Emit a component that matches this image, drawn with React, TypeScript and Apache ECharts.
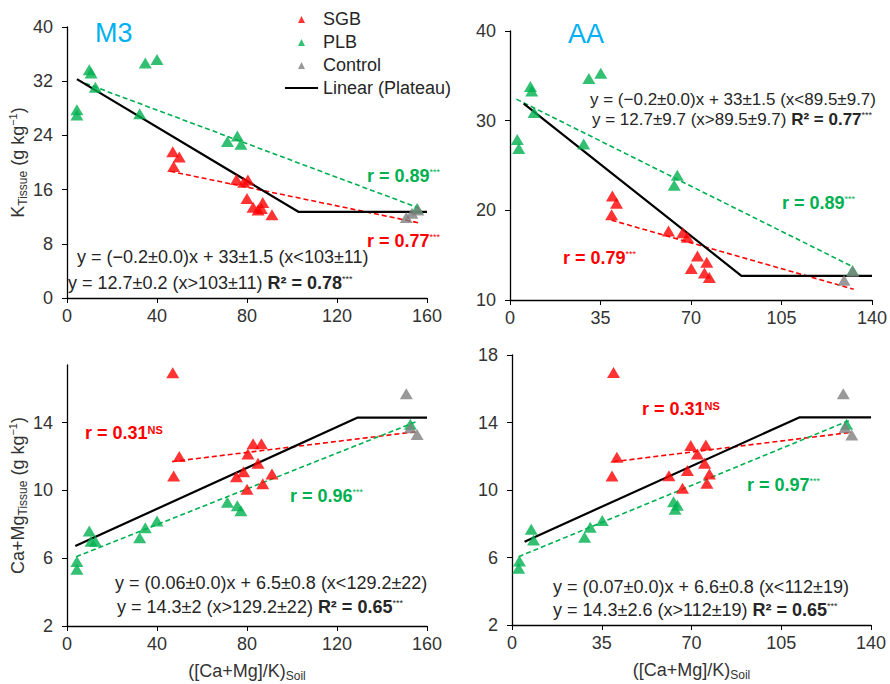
import React, { useEffect, useRef } from "react";
import * as echarts from "echarts";

// ---------- DATA ----------
// Panel M3 – K tissue vs ([Ca+Mg]/K) soil
const m3KSgb = [[47, 21.6], [49.9, 20.8], [47.4, 19.4], [75.3, 17.5], [78.5, 17.1], [80.4, 17.4], [80, 14.7], [82.7, 13.4], [84.9, 13.0], [87, 14.1], [86.4, 13.2], [91.1, 12.3]];
const m3KPlb = [[4.4, 27.8], [4.4, 27.0], [9.9, 33.7], [10.7, 33.2], [12.6, 31.1], [34.8, 34.7], [40, 35.2], [32.3, 27.2], [71.3, 23.1], [75.7, 23.9], [77.3, 22.7], [155.6, 13.2]];
const m3KCtrl = [[150.8, 11.9], [153.3, 12.5], [155.9, 13.0]];
const m3KSgbFit = [[45.9, 18.7], [156.3, 11.1]];
const m3KPlbFit = [[8.1, 31.7], [156.3, 13.3]];
const m3KPlateau = [[4.4, 32.3], [103, 12.7], [160, 12.7]];

// Panel AA – K tissue
const aaKSgb = [[39.6, 21.6], [41.2, 20.8], [39.3, 19.5], [61.3, 17.7], [66.8, 17.5], [68.6, 17.0], [72.5, 14.9], [76.1, 14.2], [70.1, 13.5], [75.2, 13.0], [77.1, 12.5]];
const aaKPlb = [[2.8, 27.9], [3.4, 26.9], [7.9, 33.8], [8.4, 33.3], [9.3, 30.9], [30.5, 34.7], [35.1, 35.3], [28.5, 27.4], [64.7, 23.9], [63.5, 22.8], [132.5, 13.3]];
const aaKCtrl = [[129.2, 12.2], [132.5, 13.2]];
const aaKSgbFit = [[39.3, 18.9], [132.9, 11.2]];
const aaKPlbFit = [[2.5, 32.4], [132.6, 13.7]];
const aaKPlateau = [[5.3, 31.9], [89.5, 12.7], [140, 12.7]];

// Panel M3 – Ca+Mg tissue
const m3CaSgb = [[47, 16.95], [49.9, 12.0], [47.4, 10.85], [75.3, 10.8], [78.5, 11.1], [80.4, 12.15], [82.7, 12.75], [86.4, 12.75], [84.9, 11.6], [80, 10.07], [87, 10.4], [91.1, 10.97]];
const m3CaPlb = [[4.4, 5.35], [4.4, 5.8], [9.9, 7.6], [10.7, 7.0], [12.6, 7.0], [32.3, 7.2], [34.8, 7.8], [40, 8.2], [71.3, 9.3], [75.7, 9.1], [77.3, 8.8], [152.6, 13.9]];
const m3CaCtrl = [[150.8, 15.7], [152.6, 13.7], [155.6, 13.3]];
const m3CaSgbFit = [[46.7, 11.7], [155.6, 13.47]];
const m3CaPlbFit = [[4.1, 6.09], [155.3, 14.06]];
const m3CaPlateau = [[3.7, 6.72], [129.2, 14.3], [160, 14.3]];

// Panel AA – Ca+Mg tissue
const aaCaSgb = [[39.6, 16.96], [40.9, 11.94], [39, 10.83], [61.2, 10.85], [68.4, 11.15], [69.7, 12.63], [72.3, 12.14], [75.6, 12.67], [75.1, 11.58], [77, 10.95], [66.5, 10.1], [76, 10.4]];
const aaCaPlb = [[2.6, 5.36], [2.9, 5.8], [7.5, 7.67], [8.4, 7.04], [28.3, 7.2], [30.5, 7.8], [35.2, 8.19], [63, 9.3], [64.5, 9.1], [63.6, 8.86], [130.5, 13.9]];
const aaCaCtrl = [[129.2, 15.7], [129.9, 13.7], [132.5, 13.26]];
const aaCaSgbFit = [[39.6, 11.68], [132.5, 13.42]];
const aaCaPlbFit = [[2.6, 6.05], [132, 14.15]];
const aaCaPlateau = [[4.9, 6.94], [112, 14.3], [140, 14.3]];

const xTicksM3 = [0, 40, 80, 120, 160];
const xTicksAA = [0, 35, 70, 105, 140];
const yTicksK_M3 = [0, 8, 16, 24, 32, 40];
const yTicksK_AA = [10, 20, 30, 40];
const yTicksCa_M3 = [2, 6, 10, 14];
const yTicksCa_AA = [2, 6, 10, 14, 18];

const legendNames = ["SGB", "PLB", "Control", "Linear (Plateau)"];

// ---------- STYLE ----------
const FONT = '"Liberation Sans", Arial, sans-serif';
const RED = "#FF0000";
const GREEN = "#00B050";
const GRAY = "#808080";
const TXT = "#262626";
const BLUE = "#00B0F0";

const triIcon = "path://M0,0 L0.01,0 L0,0.01 Z M33,8 L32.99,8 L33,7.99 Z M13,8 L16.5,1 L20,8 Z";
const lineIcon = "path://M0,0 L0.01,0 L0,0.01 Z M33,8 L32.99,8 L33,7.99 Z M0,3 L33,3 L33,5 L0,5 Z";

function axisBase(ticks: number[]) {
  return {
    type: "value",
    min: ticks[0],
    max: ticks[ticks.length - 1],
    splitLine: { show: false },
    axisLine: { show: true, onZero: false, lineStyle: { color: "#000", width: 1.3 } },
    axisTick: { show: true, inside: false, length: 5, lineStyle: { color: "#000" }, customValues: ticks },
    axisLabel: { fontSize: 18, color: "#333", fontFamily: FONT, margin: 9, customValues: ticks },
  };
}

function panelSeries(i: number, sgb: number[][], plb: number[][], ctrl: number[][], sgbFit: number[][], plbFit: number[][], plateau: number[][]) {
  const sc = (name: string, data: number[][], color: string) => ({
    type: "scatter",
    name,
    xAxisIndex: i,
    yAxisIndex: i,
    data,
    symbol: "triangle",
    symbolSize: [13, 11],
    itemStyle: { color },
    z: 5,
  });
  const ln = (name: string, data: number[][], color: string, dashed: boolean) => ({
    type: "line",
    name,
    xAxisIndex: i,
    yAxisIndex: i,
    data,
    symbol: "none",
    lineStyle: { color, width: dashed ? 1.6 : 2.2, type: dashed ? [5, 3] : "solid" },
    itemStyle: { color },
    z: 3,
  });
  return [
    ln("SGB fit", sgbFit, RED, true),
    ln("PLB fit", plbFit, GREEN, true),
    ln("Linear (Plateau)", plateau, "#000", false),
    sc("SGB", sgb, RED),
    sc("PLB", plb, GREEN),
    sc("Control", ctrl, GRAY),
  ];
}

const starRich = (color: string, size: number) => ({
  s: { fontSize: 9, fill: color, verticalAlign: "top", fontFamily: FONT },
  b: { fontSize: size, fontWeight: "bold", fill: TXT, fontFamily: FONT },
  ns: { fontSize: 11, fontWeight: "bold", fill: color, verticalAlign: "top", fontFamily: FONT },
});

function eqText(x: number, y: number, text: string, size = 18) {
  return {
    type: "text",
    x,
    y,
    z: 10,
    style: { text, fill: TXT, fontSize: size, fontFamily: FONT, verticalAlign: "middle", align: "left", rich: starRich(TXT, size) },
  };
}
function rText(x: number, y: number, text: string, color: string) {
  return {
    type: "text",
    x,
    y,
    z: 10,
    style: { text, fill: color, fontSize: 18, fontWeight: "bold", fontFamily: FONT, verticalAlign: "middle", align: "left", rich: starRich(color, 18) },
  };
}
function titleText(x: number, y: number, text: string) {
  return {
    type: "text",
    x,
    y,
    z: 10,
    style: { text, fill: BLUE, fontSize: 27, fontFamily: FONT, verticalAlign: "middle", align: "left" },
  };
}

const nameRich = {
  sub: { fontSize: 12, color: "#333", verticalAlign: "bottom", fontFamily: FONT },
  sup: { fontSize: 11, color: "#333", verticalAlign: "top", fontFamily: FONT },
};

export default function App() {
  const ref = useRef<HTMLDivElement>(null);
  useEffect(() => {
    if (!ref.current) return;
    const chart = echarts.init(ref.current, null, { renderer: "svg" });
    const grids = [
      { left: 67, top: 27, width: 360, height: 271 },
      { left: 510, top: 31, width: 362, height: 269 },
      { left: 67, top: 365, width: 360, height: 261 },
      { left: 512, top: 355, width: 359, height: 270 },
    ].map((g) => ({ ...g, outerBoundsMode: "none", containLabel: false }));

    const yCaM3 = { ...axisBase(yTicksCa_M3), max: 17.4 };
    const xName = {
      name: "([Ca+Mg]/K){sub|Soil}",
      nameLocation: "middle",
      nameGap: 34,
      nameTextStyle: { fontSize: 18, color: "#333", lineHeight: 22, fontFamily: FONT, rich: nameRich },
    };
    const yLab = (m: any) => ({ ...m, axisLabel: { ...m.axisLabel, margin: 14 } });

    const option: any = {
      animation: false,
      textStyle: { fontFamily: FONT },
      grid: grids,
      xAxis: [
        { ...axisBase(xTicksM3), gridIndex: 0 },
        { ...axisBase(xTicksAA), gridIndex: 1 },
        { ...axisBase(xTicksM3), gridIndex: 2, ...xName },
        { ...axisBase(xTicksAA), gridIndex: 3, ...xName },
      ],
      yAxis: [
        {
          ...yLab(axisBase(yTicksK_M3)),
          gridIndex: 0,
          name: "K{sub|Tissue} (g kg{sup|−1})",
          nameLocation: "middle",
          nameRotate: 90,
          nameGap: 35,
          nameTextStyle: { fontSize: 18, color: "#333", lineHeight: 22, fontFamily: FONT, rich: nameRich },
        },
        { ...yLab(axisBase(yTicksK_AA)), gridIndex: 1 },
        {
          ...yLab(yCaM3),
          gridIndex: 2,
          name: "Ca+Mg{sub|Tissue} (g kg{sup|−1})",
          nameLocation: "middle",
          nameRotate: 90,
          nameGap: 35,
          nameTextStyle: { fontSize: 18, color: "#333", lineHeight: 22, fontFamily: FONT, rich: nameRich },
        },
        { ...yLab(axisBase(yTicksCa_AA)), gridIndex: 3 },
      ],
      legend: {
        data: [
          { name: legendNames[0], icon: triIcon },
          { name: legendNames[1], icon: triIcon },
          { name: legendNames[2], icon: triIcon },
          { name: legendNames[3], icon: lineIcon },
        ],
        orient: "vertical",
        left: 285,
        top: 10,
        itemWidth: 33,
        itemHeight: 8,
        itemGap: 5,
        padding: 0,
        selectedMode: false,
        textStyle: { fontSize: 18, color: TXT, lineHeight: 18, fontFamily: FONT },
      },
      series: [
        ...panelSeries(0, m3KSgb, m3KPlb, m3KCtrl, m3KSgbFit, m3KPlbFit, m3KPlateau),
        ...panelSeries(1, aaKSgb, aaKPlb, aaKCtrl, aaKSgbFit, aaKPlbFit, aaKPlateau),
        ...panelSeries(2, m3CaSgb, m3CaPlb, m3CaCtrl, m3CaSgbFit, m3CaPlbFit, m3CaPlateau),
        ...panelSeries(3, aaCaSgb, aaCaPlb, aaCaCtrl, aaCaSgbFit, aaCaPlbFit, aaCaPlateau),
      ],
      graphic: [
        titleText(95, 33, "M3"),
        titleText(568, 34, "AA"),
        eqText(77, 257, "y = (−0.2±0.0)x + 33±1.5 (x<103±11)"),
        eqText(68, 283, "y = 12.7±0.2 (x>103±11) {b|R² = 0.78}{s|***}"),
        rText(367, 176, "r = 0.89{s|***}", GREEN),
        rText(367, 241, "r = 0.77{s|***}", RED),
        eqText(590, 99, "y = (−0.2±0.0)x + 33±1.5 (x<89.5±9.7)", 17),
        eqText(592, 119, "y = 12.7±9.7 (x>89.5±9.7) {b|R² = 0.77}{s|***}", 17),
        rText(782, 203, "r = 0.89{s|***}", GREEN),
        rText(563, 258, "r = 0.79{s|***}", RED),
        rText(85, 433, "r = 0.31{ns|NS}", RED),
        rText(290, 496, "r = 0.96{s|***}", GREEN),
        eqText(115, 583, "y = (0.06±0.0)x + 6.5±0.8 (x<129.2±22)"),
        eqText(117, 607, "y = 14.3±2 (x>129.2±22) {b|R² = 0.65}{s|***}"),
        rText(642, 409, "r = 0.31{ns|NS}", RED),
        rText(747, 485, "r = 0.97{s|***}", GREEN),
        eqText(553, 587, "y = (0.07±0.0)x + 6.6±0.8 (x<112±19)"),
        eqText(553, 610, "y = 14.3±2.6 (x>112±19) {b|R² = 0.65}{s|***}"),
      ],
    };
    chart.setOption(option);
    return () => chart.dispose();
  }, []);
  return (
    <div
      ref={ref}
      style={{ position: "fixed", left: 0, top: 0, width: 890, height: 684, background: "#fff" }}
    />
  );
}
